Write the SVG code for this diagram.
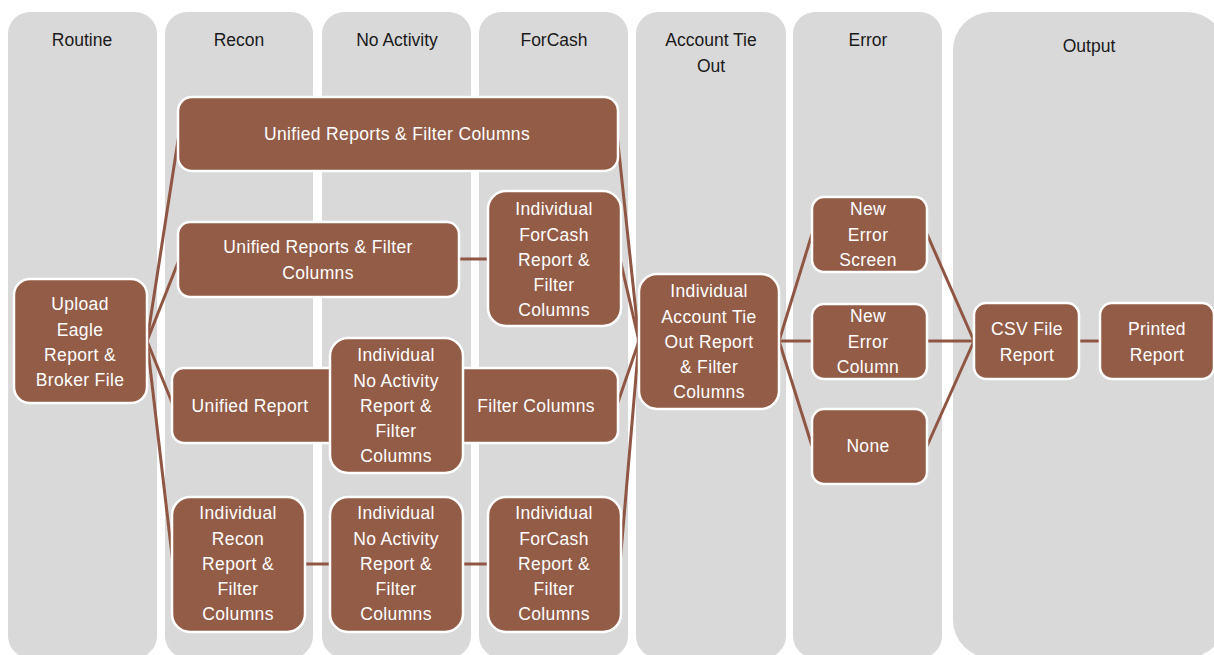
<svg xmlns="http://www.w3.org/2000/svg" width="1214" height="655" viewBox="0 0 1214 655">
<style>
.lane{fill:#d9d9d9}
.lh{font-family:"Liberation Sans",Arial,sans-serif;font-size:17.5px;fill:#1a1a1a;text-anchor:middle}
.n rect{fill:#935c47;stroke:#ffffff;stroke-width:2.5}
.n text{font-family:"Liberation Sans",Arial,sans-serif;font-size:17.5px;letter-spacing:0.35px;fill:#ffffff;text-anchor:middle}
.c line{stroke:#8f5643;stroke-width:3}
</style>
<rect width="1214" height="655" fill="#ffffff"/>
<g id="lanes">
<rect class="lane" x="8" y="12" width="149" height="646" rx="22"/>
<rect class="lane" x="165" y="12" width="148" height="646" rx="22"/>
<rect class="lane" x="322" y="12" width="149" height="646" rx="22"/>
<rect class="lane" x="479" y="12" width="149" height="646" rx="22"/>
<rect class="lane" x="636" y="12" width="150" height="646" rx="22"/>
<rect class="lane" x="793" y="12" width="149" height="646" rx="22"/>
<rect class="lane" x="953" y="12" width="272" height="646" rx="38"/>
<text class="lh" x="82" y="46">Routine</text>
<text class="lh" x="239" y="46">Recon</text>
<text class="lh" x="397" y="46">No Activity</text>
<text class="lh" x="554" y="46">ForCash</text>
<text class="lh" x="711" y="46">Account Tie</text>
<text class="lh" x="711" y="72">Out</text>
<text class="lh" x="868" y="46">Error</text>
<text class="lh" x="1089" y="52">Output</text>
</g>
<g id="connectors" class="c">
<line x1="147" y1="341" x2="179" y2="134"/>
<line x1="147" y1="341" x2="179" y2="260"/>
<line x1="147" y1="341" x2="173" y2="405"/>
<line x1="147" y1="341" x2="173" y2="564"/>
<line x1="459" y1="259" x2="488" y2="259"/>
<line x1="305" y1="564" x2="330" y2="564"/>
<line x1="463" y1="564" x2="488" y2="564"/>
<line x1="617" y1="134" x2="639" y2="341"/>
<line x1="620" y1="259" x2="639" y2="341"/>
<line x1="617" y1="405" x2="639" y2="341"/>
<line x1="620" y1="564" x2="639" y2="341"/>
<line x1="779" y1="341" x2="812" y2="234"/>
<line x1="779" y1="341" x2="812" y2="341"/>
<line x1="779" y1="341" x2="812" y2="446"/>
<line x1="927" y1="234" x2="974" y2="341"/>
<line x1="927" y1="341" x2="974" y2="341"/>
<line x1="927" y1="446" x2="974" y2="341"/>
<line x1="1079" y1="341" x2="1100" y2="341"/>
</g>
<g id="n-upload" class="n">
<rect x="14" y="279" width="133" height="124" rx="16"/>
<text x="80" y="310">Upload</text>
<text x="80" y="336">Eagle</text>
<text x="80" y="361">Report &amp;</text>
<text x="80" y="386">Broker File</text>
</g>
<g id="n-unified-top" class="n">
<rect x="178" y="97" width="440" height="74" rx="14"/>
<text x="397" y="140">Unified Reports &amp; Filter Columns</text>
</g>
<g id="n-unified-2" class="n">
<rect x="178" y="222" width="281" height="75" rx="12"/>
<text x="318" y="253">Unified Reports &amp; Filter</text>
<text x="318" y="279">Columns</text>
</g>
<g id="n-forcash-1" class="n">
<rect x="488" y="191" width="133" height="135" rx="18"/>
<text x="554" y="215">Individual</text>
<text x="554" y="241">ForCash</text>
<text x="554" y="266">Report &amp;</text>
<text x="554" y="291">Filter</text>
<text x="554" y="316">Columns</text>
</g>
<g id="n-unified-report" class="n">
<rect x="172" y="368" width="180" height="75" rx="12"/>
<text x="250" y="412">Unified Report</text>
</g>
<g id="n-filter-columns" class="n">
<rect x="445" y="368" width="173" height="75" rx="12"/>
<text x="536" y="412">Filter Columns</text>
</g>
<g id="n-noactivity-1" class="n">
<rect x="330" y="338" width="133" height="135" rx="18"/>
<text x="396" y="361">Individual</text>
<text x="396" y="387">No Activity</text>
<text x="396" y="412">Report &amp;</text>
<text x="396" y="437">Filter</text>
<text x="396" y="462">Columns</text>
</g>
<g id="n-recon" class="n">
<rect x="172" y="497" width="133" height="135" rx="18"/>
<text x="238" y="519">Individual</text>
<text x="238" y="545">Recon</text>
<text x="238" y="570">Report &amp;</text>
<text x="238" y="595">Filter</text>
<text x="238" y="620">Columns</text>
</g>
<g id="n-noactivity-2" class="n">
<rect x="330" y="497" width="133" height="135" rx="18"/>
<text x="396" y="519">Individual</text>
<text x="396" y="545">No Activity</text>
<text x="396" y="570">Report &amp;</text>
<text x="396" y="595">Filter</text>
<text x="396" y="620">Columns</text>
</g>
<g id="n-forcash-2" class="n">
<rect x="488" y="497" width="133" height="135" rx="18"/>
<text x="554" y="519">Individual</text>
<text x="554" y="545">ForCash</text>
<text x="554" y="570">Report &amp;</text>
<text x="554" y="595">Filter</text>
<text x="554" y="620">Columns</text>
</g>
<g id="n-account" class="n">
<rect x="639" y="274" width="140" height="135" rx="18"/>
<text x="709" y="297">Individual</text>
<text x="709" y="323">Account Tie</text>
<text x="709" y="348">Out Report</text>
<text x="709" y="373">&amp; Filter</text>
<text x="709" y="398">Columns</text>
</g>
<g id="n-error-screen" class="n">
<rect x="812" y="197" width="115" height="75" rx="12"/>
<text x="868" y="215">New</text>
<text x="868" y="241">Error</text>
<text x="868" y="266">Screen</text>
</g>
<g id="n-error-column" class="n">
<rect x="812" y="304" width="115" height="75" rx="12"/>
<text x="868" y="322">New</text>
<text x="868" y="348">Error</text>
<text x="868" y="373">Column</text>
</g>
<g id="n-none" class="n">
<rect x="812" y="409" width="115" height="75" rx="12"/>
<text x="868" y="452">None</text>
</g>
<g id="n-csv" class="n">
<rect x="974" y="303" width="105" height="76" rx="12"/>
<text x="1027" y="335">CSV File</text>
<text x="1027" y="361">Report</text>
</g>
<g id="n-printed" class="n">
<rect x="1100" y="303" width="114" height="76" rx="12"/>
<text x="1157" y="335">Printed</text>
<text x="1157" y="361">Report</text>
</g>
</svg>
